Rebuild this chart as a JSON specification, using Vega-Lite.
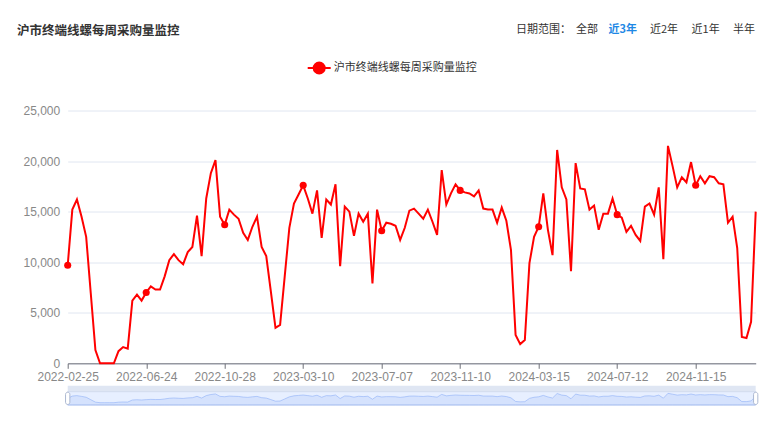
{
  "$schema": "https://vega.github.io/schema/vega-lite/v6.json",
  "width": 688,
  "height": 252.8,
  "autosize": "none",
  "padding": {"left": 67.7, "top": 110.5, "right": 13.3, "bottom": 59.7},
  "background": "white",
  "config": {"view": {"stroke": null}, "font": "Noto Sans CJK SC"},
  "title": {
    "text": "沪市终端线螺每周采购量监控",
    "anchor": "start",
    "frame": "group",
    "fontSize": 12.5,
    "fontWeight": "bold",
    "color": "#333333",
    "dx": -50.7,
    "dy": 14,
    "offset": 0
  },
  "data": {
    "values": [
      {"date": "2022-02-25", "value": 9700},
      {"date": "2022-03-04", "value": 15200},
      {"date": "2022-03-11", "value": 16200},
      {"date": "2022-03-18", "value": 14500},
      {"date": "2022-03-25", "value": 12500},
      {"date": "2022-04-01", "value": 6900},
      {"date": "2022-04-08", "value": 1300},
      {"date": "2022-04-15", "value": 0},
      {"date": "2022-04-22", "value": 0},
      {"date": "2022-04-29", "value": 0},
      {"date": "2022-05-06", "value": 0},
      {"date": "2022-05-13", "value": 1200},
      {"date": "2022-05-20", "value": 1600},
      {"date": "2022-05-27", "value": 1450},
      {"date": "2022-06-03", "value": 6200},
      {"date": "2022-06-10", "value": 6800},
      {"date": "2022-06-17", "value": 6200},
      {"date": "2022-06-24", "value": 7000},
      {"date": "2022-07-01", "value": 7600},
      {"date": "2022-07-08", "value": 7300},
      {"date": "2022-07-15", "value": 7300},
      {"date": "2022-07-22", "value": 8600},
      {"date": "2022-07-29", "value": 10200},
      {"date": "2022-08-05", "value": 10800},
      {"date": "2022-08-12", "value": 10200},
      {"date": "2022-08-19", "value": 9800},
      {"date": "2022-08-26", "value": 11000},
      {"date": "2022-09-02", "value": 11500},
      {"date": "2022-09-09", "value": 14600},
      {"date": "2022-09-16", "value": 10600},
      {"date": "2022-09-23", "value": 16300},
      {"date": "2022-09-30", "value": 18800},
      {"date": "2022-10-14", "value": 20100},
      {"date": "2022-10-21", "value": 14500},
      {"date": "2022-10-28", "value": 13700},
      {"date": "2022-11-04", "value": 15200},
      {"date": "2022-11-11", "value": 14700},
      {"date": "2022-11-18", "value": 14300},
      {"date": "2022-11-25", "value": 12900},
      {"date": "2022-12-02", "value": 12200},
      {"date": "2022-12-09", "value": 13500},
      {"date": "2022-12-16", "value": 14500},
      {"date": "2022-12-23", "value": 11500},
      {"date": "2022-12-30", "value": 10600},
      {"date": "2023-01-06", "value": 7100},
      {"date": "2023-01-13", "value": 3500},
      {"date": "2023-01-20", "value": 3800},
      {"date": "2023-02-10", "value": 8600},
      {"date": "2023-02-17", "value": 13400},
      {"date": "2023-02-24", "value": 15800},
      {"date": "2023-03-03", "value": 16700},
      {"date": "2023-03-10", "value": 17600},
      {"date": "2023-03-17", "value": 16300},
      {"date": "2023-03-24", "value": 14800},
      {"date": "2023-03-31", "value": 17100},
      {"date": "2023-04-07", "value": 12400},
      {"date": "2023-04-14", "value": 16200},
      {"date": "2023-04-21", "value": 15700},
      {"date": "2023-04-28", "value": 17700},
      {"date": "2023-05-05", "value": 9600},
      {"date": "2023-05-12", "value": 15500},
      {"date": "2023-05-19", "value": 15000},
      {"date": "2023-05-26", "value": 12600},
      {"date": "2023-06-02", "value": 14800},
      {"date": "2023-06-09", "value": 14000},
      {"date": "2023-06-16", "value": 14800},
      {"date": "2023-06-23", "value": 7900},
      {"date": "2023-06-30", "value": 15200},
      {"date": "2023-07-07", "value": 13100},
      {"date": "2023-07-14", "value": 13900},
      {"date": "2023-07-21", "value": 13800},
      {"date": "2023-07-28", "value": 13600},
      {"date": "2023-08-04", "value": 12200},
      {"date": "2023-08-11", "value": 13400},
      {"date": "2023-08-18", "value": 15100},
      {"date": "2023-08-25", "value": 15300},
      {"date": "2023-09-01", "value": 14800},
      {"date": "2023-09-08", "value": 14300},
      {"date": "2023-09-15", "value": 15200},
      {"date": "2023-09-22", "value": 14000},
      {"date": "2023-09-29", "value": 12700},
      {"date": "2023-10-13", "value": 19100},
      {"date": "2023-10-20", "value": 15700},
      {"date": "2023-10-27", "value": 16800},
      {"date": "2023-11-03", "value": 17700},
      {"date": "2023-11-10", "value": 17100},
      {"date": "2023-11-17", "value": 16900},
      {"date": "2023-11-24", "value": 16800},
      {"date": "2023-12-01", "value": 16500},
      {"date": "2023-12-08", "value": 17100},
      {"date": "2023-12-15", "value": 15300},
      {"date": "2023-12-22", "value": 15200},
      {"date": "2023-12-29", "value": 15200},
      {"date": "2024-01-05", "value": 13900},
      {"date": "2024-01-12", "value": 15400},
      {"date": "2024-01-19", "value": 14100},
      {"date": "2024-01-26", "value": 11200},
      {"date": "2024-02-02", "value": 2800},
      {"date": "2024-02-09", "value": 1900},
      {"date": "2024-02-23", "value": 2300},
      {"date": "2024-03-01", "value": 9900},
      {"date": "2024-03-08", "value": 12500},
      {"date": "2024-03-15", "value": 13500},
      {"date": "2024-03-22", "value": 16800},
      {"date": "2024-03-29", "value": 13200},
      {"date": "2024-04-05", "value": 10700},
      {"date": "2024-04-12", "value": 21100},
      {"date": "2024-04-19", "value": 17400},
      {"date": "2024-04-26", "value": 16200},
      {"date": "2024-05-03", "value": 9100},
      {"date": "2024-05-10", "value": 19800},
      {"date": "2024-05-17", "value": 17300},
      {"date": "2024-05-24", "value": 17200},
      {"date": "2024-05-31", "value": 15200},
      {"date": "2024-06-07", "value": 15600},
      {"date": "2024-06-14", "value": 13200},
      {"date": "2024-06-21", "value": 14800},
      {"date": "2024-06-28", "value": 14800},
      {"date": "2024-07-05", "value": 16300},
      {"date": "2024-07-12", "value": 14700},
      {"date": "2024-07-19", "value": 14400},
      {"date": "2024-07-26", "value": 13000},
      {"date": "2024-08-02", "value": 13600},
      {"date": "2024-08-09", "value": 12700},
      {"date": "2024-08-16", "value": 12100},
      {"date": "2024-08-23", "value": 15500},
      {"date": "2024-08-30", "value": 15800},
      {"date": "2024-09-06", "value": 14700},
      {"date": "2024-09-13", "value": 17400},
      {"date": "2024-09-20", "value": 10300},
      {"date": "2024-09-27", "value": 21500},
      {"date": "2024-10-11", "value": 19500},
      {"date": "2024-10-18", "value": 17400},
      {"date": "2024-10-25", "value": 18400},
      {"date": "2024-11-01", "value": 17900},
      {"date": "2024-11-08", "value": 19900},
      {"date": "2024-11-15", "value": 17600},
      {"date": "2024-11-22", "value": 18500},
      {"date": "2024-11-29", "value": 17800},
      {"date": "2024-12-06", "value": 18500},
      {"date": "2024-12-13", "value": 18400},
      {"date": "2024-12-20", "value": 17800},
      {"date": "2024-12-27", "value": 17700},
      {"date": "2025-01-03", "value": 13900},
      {"date": "2025-01-10", "value": 14500},
      {"date": "2025-01-17", "value": 11400},
      {"date": "2025-01-24", "value": 2600},
      {"date": "2025-02-07", "value": 2500},
      {"date": "2025-02-14", "value": 4100},
      {"date": "2025-02-21", "value": 15000}
    ]
  },
  "layer": [
    {
      "layer": [
        {
          "transform": [{"filter": "datum.date === '2022-02-25'"}],
          "mark": {"type": "rect", "fill": "#d2dbee", "opacity": 0.7},
          "encoding": {
            "x": {"datum": "2022-02-25", "type": "ordinal", "axis": null},
            "x2": {"datum": "2025-02-21"},
            "y": {"datum": 25220, "type": "quantitative", "scale": {"domain": [-5270, 39000], "range": [294.5, 275.2], "nice": false, "zero": false}, "axis": null},
            "y2": {"datum": 39000}
          }
        },
        {
          "transform": [{"filter": "datum.date === '2022-02-25'"}],
          "mark": {"type": "rect", "fill": "#87afff", "fillOpacity": 0.2, "stroke": "#d2dbee", "strokeWidth": 1},
          "encoding": {
            "x": {"datum": "2022-02-25", "type": "ordinal", "axis": null},
            "x2": {"datum": "2025-02-21"},
            "y": {"datum": -5270, "type": "quantitative", "axis": null},
            "y2": {"datum": 25220}
          }
        },
        {
          "mark": {"type": "area", "fill": "#8fb0f7", "fillOpacity": 0.2, "stroke": "#8fb0f7", "strokeWidth": 0.6},
          "encoding": {
            "x": {"field": "date", "type": "ordinal", "axis": null},
            "y": {"field": "value", "type": "quantitative", "axis": null},
            "y2": {"datum": -5270}
          }
        },
        {
          "transform": [{"filter": "datum.date === '2022-02-25' || datum.date === '2025-02-21'"}],
          "mark": {"type": "point", "shape": "M-0.35,-0.65A0.35,0.35,0,0,1,0.35,-0.65V0.65A0.35,0.35,0,0,1,-0.35,0.65Z", "size": 150, "filled": true, "fill": "#ffffff", "stroke": "#ACB8D1", "strokeWidth": 1, "opacity": 1},
          "encoding": {
            "x": {"field": "date", "type": "ordinal", "axis": null},
            "y": {"datum": 10000, "type": "quantitative", "axis": null}
          }
        }
      ]
    },
    {
      "mark": {"type": "line", "strokeWidth": 2, "interpolate": "linear"},
      "encoding": {
        "x": {
          "field": "date",
          "type": "ordinal",
          "scale": {"type": "point", "padding": 0.001},
          "axis": {
            "values": ["2022-02-25", "2022-06-24", "2022-10-28", "2023-03-10", "2023-07-07", "2023-11-10", "2024-03-15", "2024-07-12", "2024-11-15"],
            "labelAngle": 0,
            "title": null,
            "grid": false,
            "domainColor": "#6E7079",
            "tickColor": "#6E7079",
            "tickSize": 5,
            "labelColor": "#888888",
            "labelFont": "Liberation Sans",
            "labelFontSize": 12,
            "labelPadding": 3,
            "labelOverlap": false,
            "labelBound": false,
            "labelFlush": false
          }
        },
        "y": {
          "field": "value",
          "type": "quantitative",
          "scale": {"domain": [0, 25000], "nice": false},
          "axis": {
            "values": [0, 5000, 10000, 15000, 20000, 25000],
            "labelExpr": "format(datum.value, ',.0f')",
            "title": null,
            "domain": false,
            "ticks": false,
            "grid": true,
            "gridColor": "#E0E6F1",
            "labelColor": "#888888",
            "labelFont": "Liberation Sans",
            "labelFontSize": 12,
            "labelPadding": 8
          }
        },
        "color": {
          "datum": "沪市终端线螺每周采购量监控",
          "scale": {"range": ["#ff0000"]},
          "legend": {
            "orient": "none",
            "legendX": 239,
            "legendY": -55,
            "title": null,
            "symbolType": "M-1,0H1M0.48,0A0.48,0.48,0,1,1,-0.48,0A0.48,0.48,0,1,1,0.48,0Z",
            "symbolSize": 529,
            "symbolStrokeWidth": 2,
            "symbolFillColor": "#ff0000",
            "symbolStrokeColor": "#ff0000",
            "labelFontSize": 11,
            "labelColor": "#333333",
            "labelOffset": 2
          }
        }
      }
    },
    {
      "transform": [{"filter": {"field": "date", "oneOf": ["2022-02-25", "2022-06-24", "2022-10-28", "2023-03-10", "2023-07-07", "2023-11-10", "2024-03-15", "2024-07-12", "2024-11-15"]}}],
      "mark": {"type": "point", "filled": true, "size": 50, "color": "#ff0000", "opacity": 1},
      "encoding": {
        "x": {
          "field": "date",
          "type": "ordinal",
          "axis": {
            "orient": "top",
            "values": ["2024-02-02", "2024-05-10", "2024-06-28", "2024-08-30", "2024-11-08", "2025-01-10"],
            "labelExpr": "datum.value === '2024-02-02' ? '日期范围：' : datum.value === '2024-05-10' ? '全部' : datum.value === '2024-06-28' ? '近3年' : datum.value === '2024-08-30' ? '近2年' : datum.value === '2024-11-08' ? '近1年' : '半年'",
            "labelAngle": 0,
            "labelAlign": "left",
            "labelBaseline": "middle",
            "labelFontSize": 11,
            "labelColor": {"condition": {"test": "datum.value === '2024-06-28'", "value": "#1E88E5"}, "value": "#333333"},
            "labelFontWeight": {"condition": {"test": "datum.value === '2024-06-28'", "value": "bold"}, "value": "normal"},
            "labelPadding": 81,
            "labelOverlap": false,
            "labelBound": false,
            "domain": false,
            "ticks": false,
            "grid": false,
            "title": null
          }
        },
        "y": {
          "field": "value",
          "type": "quantitative",
          "scale": {"domain": [0, 25000], "nice": false},
          "axis": null
        }
      }
    }
  ],
  "resolve": {"scale": {"y": "independent"}, "axis": {"x": "independent"}}
}
